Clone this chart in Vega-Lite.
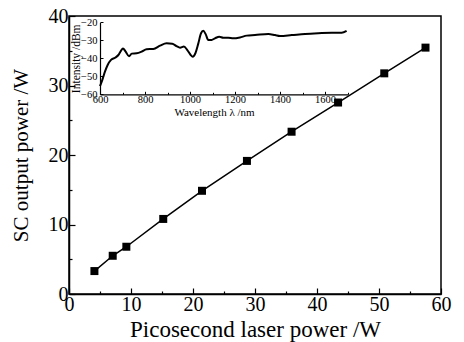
{
  "$schema": "https://vega.github.io/schema/vega-lite/v6.json",
  "width": 372,
  "height": 278,
  "autosize": {"type": "none"},
  "padding": {"left": 69, "top": 16, "right": 23, "bottom": 48},
  "background": "white",
  "config": {
    "font": "Liberation Serif",
    "view": {"stroke": "black", "strokeWidth": 1.5},
    "axis": {
      "domainColor": "black",
      "tickColor": "black",
      "labelColor": "black",
      "titleColor": "black",
      "labelFont": "Liberation Serif",
      "titleFont": "Liberation Serif",
      "titleFontWeight": "normal",
      "grid": false
    }
  },
  "datasets": {
    "power": [
      {"pump": 4.1, "sc": 3.3},
      {"pump": 7.05, "sc": 5.5},
      {"pump": 9.25, "sc": 6.8},
      {"pump": 15.2, "sc": 10.8},
      {"pump": 21.45, "sc": 14.85},
      {"pump": 28.7, "sc": 19.15},
      {"pump": 35.9, "sc": 23.35},
      {"pump": 43.4, "sc": 27.55},
      {"pump": 50.85, "sc": 31.75},
      {"pump": 57.5, "sc": 35.45}
    ],
    "spectrum": [
      {"nm": 600, "dbm": -55.5},
      {"nm": 610, "dbm": -52.1},
      {"nm": 622, "dbm": -47.4},
      {"nm": 634, "dbm": -43.7},
      {"nm": 649, "dbm": -40.9},
      {"nm": 667, "dbm": -39.7},
      {"nm": 684, "dbm": -37.8},
      {"nm": 693, "dbm": -35.9},
      {"nm": 702, "dbm": -34.5},
      {"nm": 714, "dbm": -36.3},
      {"nm": 729, "dbm": -38.9},
      {"nm": 741, "dbm": -37.4},
      {"nm": 763, "dbm": -37.2},
      {"nm": 785, "dbm": -36.3},
      {"nm": 807, "dbm": -35.0},
      {"nm": 837, "dbm": -34.8},
      {"nm": 867, "dbm": -33.0},
      {"nm": 896, "dbm": -31.7},
      {"nm": 921, "dbm": -31.9},
      {"nm": 940, "dbm": -33.2},
      {"nm": 956, "dbm": -34.1},
      {"nm": 973, "dbm": -33.5},
      {"nm": 988, "dbm": -35.4},
      {"nm": 1003, "dbm": -38.2},
      {"nm": 1012, "dbm": -39.1},
      {"nm": 1024, "dbm": -37.2},
      {"nm": 1037, "dbm": -31.7},
      {"nm": 1049, "dbm": -26.1},
      {"nm": 1059, "dbm": -24.7},
      {"nm": 1070, "dbm": -26.7},
      {"nm": 1081, "dbm": -29.8},
      {"nm": 1096, "dbm": -29.8},
      {"nm": 1111, "dbm": -28.9},
      {"nm": 1130, "dbm": -28.0},
      {"nm": 1148, "dbm": -28.6},
      {"nm": 1170, "dbm": -28.6},
      {"nm": 1192, "dbm": -28.9},
      {"nm": 1222, "dbm": -28.4},
      {"nm": 1252, "dbm": -27.4},
      {"nm": 1289, "dbm": -27.1},
      {"nm": 1348, "dbm": -26.5},
      {"nm": 1378, "dbm": -27.1},
      {"nm": 1400, "dbm": -27.6},
      {"nm": 1452, "dbm": -27.1},
      {"nm": 1511, "dbm": -26.5},
      {"nm": 1570, "dbm": -26.1},
      {"nm": 1630, "dbm": -25.8},
      {"nm": 1674, "dbm": -25.8},
      {"nm": 1696, "dbm": -24.8}
    ]
  },
  "layer": [
    {
      "data": {"name": "power"},
      "encoding": {
        "x": {
          "field": "pump", "type": "quantitative",
          "scale": {"domain": [0, 60], "nice": false, "zero": false},
          "axis": {
            "orient": "bottom",
            "title": "Picosecond laser power /W",
            "values": [0, 5, 10, 15, 20, 25, 30, 35, 40, 45, 50, 55, 60],
            "labelExpr": "datum.value % 10 === 0 ? datum.label : ''",
            "tickSize": {"condition": {"test": "datum.value % 10 === 0", "value": -6}, "value": -3},
            "tickWidth": 1.2,
            "domainWidth": 1.5,
            "labelFontSize": 20,
            "labelPadding": 6.5,
            "labelFlush": false,
            "titleFontSize": 23,
            "titlePadding": 4
          }
        },
        "y": {
          "field": "sc", "type": "quantitative",
          "scale": {"domain": [0, 40], "nice": false, "zero": false},
          "axis": {
            "orient": "left",
            "title": "SC output power /W",
            "values": [0, 5, 10, 15, 20, 25, 30, 35, 40],
            "labelExpr": "datum.value % 10 === 0 ? datum.label : ''",
            "tickSize": {"condition": {"test": "datum.value % 10 === 0", "value": -6}, "value": -3},
            "tickWidth": 1.2,
            "domainWidth": 1.5,
            "labelFontSize": 20,
            "labelPadding": 7,
            "labelFlush": false,
            "titleFontSize": 21,
            "titlePadding": 17
          }
        }
      },
      "layer": [
        {"mark": {"type": "line", "color": "black", "strokeWidth": 1.5}},
        {"mark": {"type": "point", "shape": "square", "filled": true, "color": "black", "opacity": 1, "size": 64}}
      ]
    },
    {
      "data": {"name": "spectrum"},
      "mark": {"type": "line", "color": "black", "strokeWidth": 2, "interpolate": "monotone"},
      "encoding": {
        "x": {
          "field": "nm", "type": "quantitative",
          "scale": {"domain": [600, 1700], "nice": false, "zero": false, "range": [31, 278.5]},
          "axis": {
            "orient": "bottom",
            "offset": -199.7,
            "title": "Wavelength λ /nm",
            "values": [600, 700, 800, 900, 1000, 1100, 1200, 1300, 1400, 1500, 1600, 1700],
            "labelExpr": "datum.value % 200 === 0 ? datum.label : ''",
            "format": "d",
            "tickSize": {"condition": {"test": "datum.value % 200 === 0", "value": -3}, "value": -2},
            "tickWidth": 1,
            "domainWidth": 1.2,
            "labelFontSize": 10.5,
            "labelPadding": 3.5,
            "labelFlush": false,
            "titleFontSize": 11,
            "titlePadding": 1,
            "titleX": 145
          }
        },
        "y": {
          "field": "dbm", "type": "quantitative",
          "scale": {"domain": [-60, -20], "nice": false, "zero": false, "range": [78.3, 6.3]},
          "axis": {
            "orient": "left",
            "offset": -31,
            "title": "Intensity /dBm",
            "values": [-60, -50, -40, -30, -20],
            "tickSize": -3,
            "tickWidth": 1,
            "domainWidth": 1.2,
            "labelFontSize": 10.5,
            "labelPadding": 6,
            "labelFlush": false,
            "titleFontSize": 11.5,
            "titlePadding": -1
          }
        }
      }
    }
  ],
  "resolve": {
    "scale": {"x": "independent", "y": "independent"},
    "axis": {"x": "independent", "y": "independent"}
  }
}
